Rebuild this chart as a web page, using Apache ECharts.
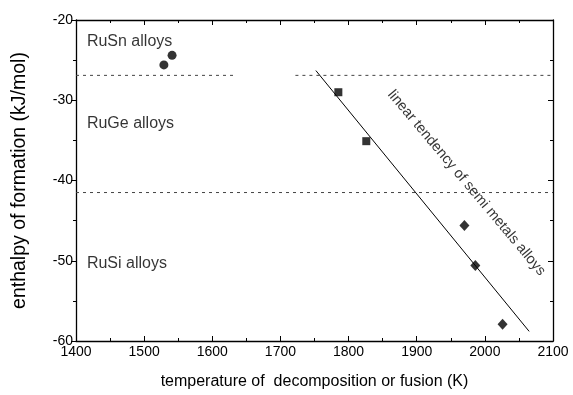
<!DOCTYPE html>
<html><head><meta charset="utf-8">
<script src="https://cdn.jsdelivr.net/npm/echarts@6/dist/echarts.min.js"></script>
<style>html,body{margin:0;padding:0;background:#fff}#c{width:573px;height:395px}</style>
</head><body><div id="c"></div>
<script>
const xTicks = [1400,1500,1600,1700,1800,1900,2000,2100];
const yTicks = [-60,-50,-40,-30,-20];
const ruSn = [[1529,-25.6],[1541,-24.4]];
const ruGe = [[1785,-29.0],[1826,-35.1]];
const ruSi = [[1970,-45.6],[1986,-50.6],[2026,-57.9]];
const trend = [[1752,-26.3],[2065,-58.8]];
const border1a = [[1400,-26.9],[1631,-26.9]];
const border1b = [[1722,-26.9],[2100,-26.9]];
const border2 = [[1400,-41.5],[2100,-41.5]];
const labels = [
  {text:'RuSn alloys', at:[1416,-22.7]},
  {text:'RuGe alloys', at:[1416,-32.9]},
  {text:'RuSi alloys', at:[1416,-50.4]}
];
const trendLabel = {text:'linear tendency of semi metals alloys', at:[1973,-40.3]};

const font = 'Liberation Sans, Arial, sans-serif';
const chart = echarts.init(document.getElementById('c'));
const axisLine = {show:true, lineStyle:{color:'#000', width:1.3}};
chart.setOption({
  animation:false,
  grid:{left:76, right:20, top:20, bottom:51},
  xAxis:[{
    type:'value', min:xTicks[0], max:xTicks[xTicks.length-1], interval:100,
    axisLine, axisTick:{show:true, inside:true, length:5, lineStyle:{color:'#000'}},
    minorTick:{show:true, splitNumber:2, length:3, lineStyle:{color:'#000'}},
    splitLine:{show:false},
    axisLabel:{color:'#000', fontSize:14, fontFamily:font, margin:4, formatter:v=>String(v)},
    name:'temperature of  decomposition or fusion (K)', nameLocation:'middle', nameGap:33,
    nameTextStyle:{color:'#000', fontSize:16, fontFamily:font}
  },{
    type:'value', position:'top', min:xTicks[0], max:xTicks[xTicks.length-1], interval:100,
    axisLine, axisTick:{show:true, inside:true, length:5, lineStyle:{color:'#000'}},
    minorTick:{show:true, splitNumber:2, length:3, lineStyle:{color:'#000'}},
    splitLine:{show:false}, axisLabel:{show:false}
  }],
  yAxis:[{
    type:'value', min:yTicks[0], max:yTicks[yTicks.length-1], interval:10,
    axisLine, axisTick:{show:true, length:5, lineStyle:{color:'#000'}},
    minorTick:{show:true, splitNumber:2, length:3, lineStyle:{color:'#000'}},
    splitLine:{show:false},
    axisLabel:{color:'#000', fontSize:14, fontFamily:font, margin:3},
    name:'enthalpy of formation (kJ/mol)', nameLocation:'middle', nameGap:46,
    nameTextStyle:{color:'#000', fontSize:19.5, fontFamily:font}
  },{
    type:'value', position:'right', min:yTicks[0], max:yTicks[yTicks.length-1], interval:10,
    axisLine, axisTick:{show:true, inside:true, length:5, lineStyle:{color:'#000'}},
    minorTick:{show:true, splitNumber:2, length:3, lineStyle:{color:'#000'}},
    splitLine:{show:false}, axisLabel:{show:false}
  }],
  series:[
    {type:'line', data:border1a, symbol:'none', lineStyle:{color:'#444', width:1, type:[3,4]}},
    {type:'line', data:border1b, symbol:'none', lineStyle:{color:'#444', width:1, type:[3,4]}},
    {type:'line', data:border2, symbol:'none', lineStyle:{color:'#444', width:1, type:[3,4]}},
    {type:'line', data:trend, symbol:'none', lineStyle:{color:'#000', width:1}},
    {type:'scatter', data:ruSn, symbol:'circle', symbolSize:9, itemStyle:{color:'#000'}},
    {type:'scatter', data:ruGe, symbol:'rect', symbolSize:8, itemStyle:{color:'#000'}},
    {type:'scatter', data:ruSi, symbol:'diamond', symbolSize:[10,11], itemStyle:{color:'#000'}},
    {type:'scatter', symbolSize:0, silent:true,
      data:labels.map(l=>({value:l.at, label:{show:true, formatter:l.text, position:'right', distance:0,
        color:'#000', fontSize:16, fontFamily:font}}))},
    {type:'scatter', symbolSize:0, silent:true,
      data:[{value:trendLabel.at, label:{show:true, formatter:trendLabel.text, position:'inside', rotate:-50,
        color:'#000', fontSize:14.5, fontFamily:font}}]}
  ]
});
</script></body></html>
